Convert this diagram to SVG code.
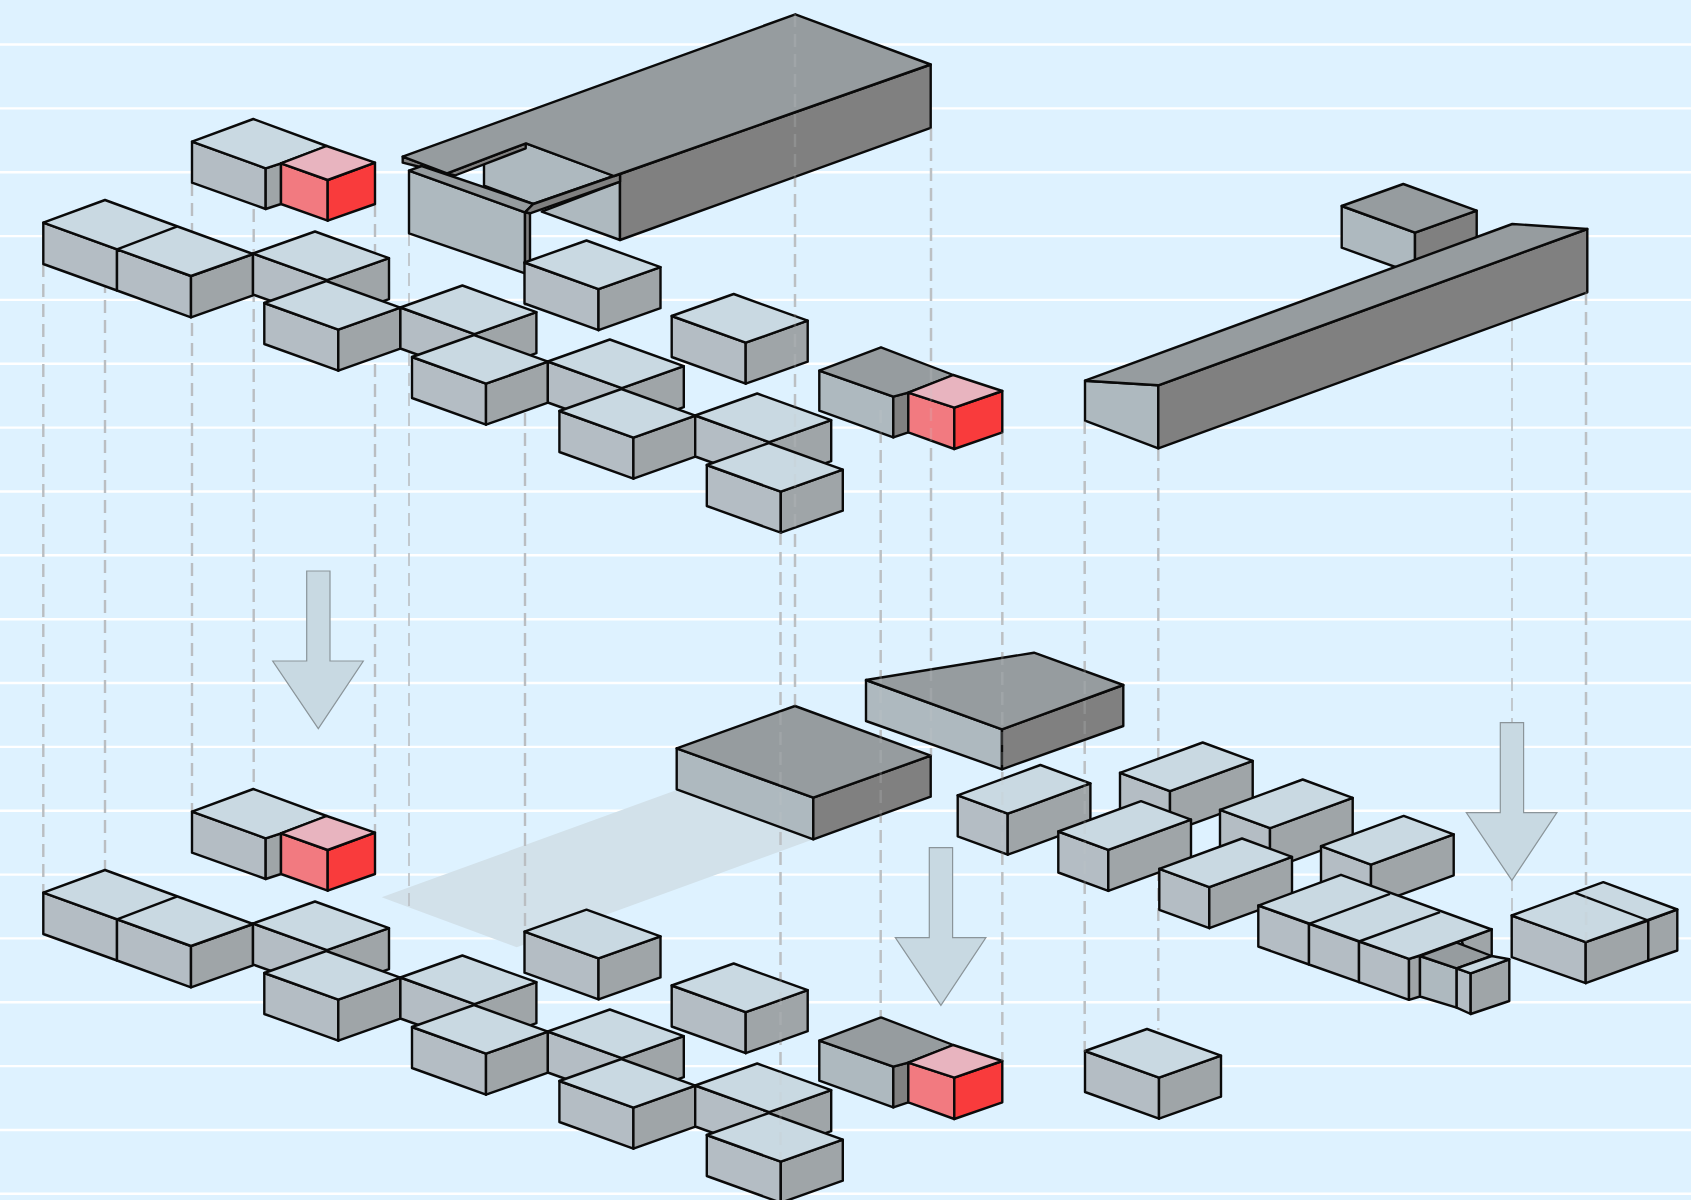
<svg xmlns="http://www.w3.org/2000/svg" width="1691" height="1200" viewBox="0 0 1691 1200">
<style>
.grid{stroke:#fff;stroke-width:2.4;fill:none}
.dash{stroke:#babec2;stroke-width:2.4;stroke-dasharray:13 7;fill:none}
.thin{stroke-width:1.6}
.f{stroke:#0a0a0a;stroke-width:2.4;stroke-linejoin:round}
.t{fill:#c9d9e2}.l{fill:#b4bdc4}.r{fill:#9fa5a8}
.dt{fill:#969c9f}.dl{fill:#aeb9bf}.dr{fill:#808080}
.pt{fill:#e8b4bf}.pl{fill:#f27a80}.pr{fill:#f93b3c}
.arrow{fill:#c8d9e2;stroke:#8b959a;stroke-width:1.2}
.shadow{fill:#d2e1ea}
#tint line{stroke:#ffe4d2;stroke-width:2.4;opacity:.16}
#ghost{opacity:.22}
#ghost line{stroke:#c6c8ca}
</style>
<defs>
<g id="b">
<polygon class="f l" points="0,0 74,26.7 74,67.7 0,41"/>
<polygon class="f r" points="74,26.7 136,4.7 136,45.7 74,67.7"/>
<polygon class="f t" points="0,0 74,26.7 136,4.7 62,-22"/>
</g>
<g id="w">
<polygon class="f l" points="0,0 50,18.4 50,59.4 0,41"/>
<polygon class="f r" points="50,18.4 132.7,-11.9 132.7,29.1 50,59.4"/>
<polygon class="f t" points="0,0 50,18.4 132.7,-11.9 82.7,-30.3"/>
</g>
<g id="dbl">
<polygon class="f l" points="0,0 73.7,26.7 73.7,67.8 0,41.3"/>
<polygon class="f l" points="73.7,26.7 147.7,53.3 147.7,94.6 73.7,67.8"/>
<polygon class="f r" points="147.7,53.3 209.7,31.3 209.7,72.6 147.7,94.6"/>
<polygon class="f t" points="0,0 61.7,-22.7 209.7,31.3 147.7,53.3"/>
<line class="f" x1="73.7" y1="26.7" x2="133.5" y2="4"/>
</g>
<g id="red">
<polygon class="f l" points="0,0 73.7,26.6 73.7,67.3 0,41"/>
<polygon class="f r" points="73.7,26.6 89,21.6 89,62.3 73.7,67.3"/>
<polygon class="f t" points="0,0 61.3,-22.7 134.7,4.3 89,21.6 73.7,26.6"/>
<polygon class="f pl" points="89,21.6 135.7,38.3 135.7,79 89,62.3"/>
<polygon class="f pr" points="135.7,38.3 183,21 183,62.3 135.7,79"/>
<polygon class="f pt" points="89,21.6 134.7,4.3 183,21 135.7,38.3"/>
</g>
<g id="redd">
<polygon class="f dl" points="0,0 74,26 74,66.7 0,40"/>
<polygon class="f dr" points="74,26 89,22 89,61.6 74,66.7"/>
<polygon class="f dt" points="0,0 61.7,-23.4 134,4.3 89,22 74,26"/>
<polygon class="f pl" points="89,22 135,37 135,78.3 89,61.6"/>
<polygon class="f pr" points="135,37 183,20.3 183,61.6 135,78.3"/>
<polygon class="f pt" points="89,22 134,4.3 183,20.3 135,37"/>
</g>
<polygon id="arr" class="arrow" points="306.7,571 330,571 330,661 363.3,661 318.3,728.7 272.7,661 306.7,661"/>
<g id="gridlines">
<line x1="0" x2="1691" y1="44.5" y2="44.5"/>
<line x1="0" x2="1691" y1="108.4" y2="108.4"/>
<line x1="0" x2="1691" y1="172.2" y2="172.2"/>
<line x1="0" x2="1691" y1="236.1" y2="236.1"/>
<line x1="0" x2="1691" y1="299.9" y2="299.9"/>
<line x1="0" x2="1691" y1="363.8" y2="363.8"/>
<line x1="0" x2="1691" y1="427.6" y2="427.6"/>
<line x1="0" x2="1691" y1="491.5" y2="491.5"/>
<line x1="0" x2="1691" y1="555.3" y2="555.3"/>
<line x1="0" x2="1691" y1="619.2" y2="619.2"/>
<line x1="0" x2="1691" y1="683" y2="683"/>
<line x1="0" x2="1691" y1="746.9" y2="746.9"/>
<line x1="0" x2="1691" y1="810.7" y2="810.7"/>
<line x1="0" x2="1691" y1="874.6" y2="874.6"/>
<line x1="0" x2="1691" y1="938.4" y2="938.4"/>
<line x1="0" x2="1691" y1="1002.3" y2="1002.3"/>
<line x1="0" x2="1691" y1="1066.1" y2="1066.1"/>
<line x1="0" x2="1691" y1="1130" y2="1130"/>
<line x1="0" x2="1691" y1="1193.8" y2="1193.8"/>
</g>
</defs>

<rect width="1691" height="1200" fill="#def2ff"/>
<g id="grid" class="grid"><use href="#gridlines"/></g>
<polygon id="shadow" class="shadow" points="381.7,897.3 676.7,790 813.3,839.3 516.7,947.3"/>

<g id="connectors">
<line class="dash" x1="43.3" y1="264" x2="43.3" y2="893"/>
<line class="dash" x1="105" y1="240" x2="105" y2="870"/>
<line class="dash" x1="192" y1="183" x2="192" y2="812"/>
<line class="dash" x1="253.7" y1="209" x2="253.7" y2="789"/>
<line class="dash" x1="375" y1="204" x2="375" y2="832"/>
<line class="dash thin" x1="409" y1="233" x2="409" y2="908"/>
<line class="dash" x1="525" y1="273" x2="525" y2="931"/>
<line class="dash" x1="780.5" y1="532" x2="780.5" y2="1160"/>
<line class="dash" x1="795" y1="14" x2="795" y2="706"/>
<line class="dash" x1="880.7" y1="410" x2="880.7" y2="1017"/>
<line class="dash" x1="931" y1="128" x2="931" y2="756"/>
<line class="dash" x1="1002.3" y1="432" x2="1002.3" y2="1061"/>
<line class="dash" x1="1084.7" y1="421" x2="1084.7" y2="1052"/>
<line class="dash" x1="1158.3" y1="448" x2="1158.3" y2="1030"/>
<line class="dash thin" x1="1512" y1="318" x2="1512" y2="915"/>
<line class="dash" x1="1586" y1="292" x2="1586" y2="942"/>
</g>

<g id="top-slab">
<polygon class="f dl" points="541.7,211.7 620,181.7 620,240"/>
<polygon class="f dl" points="484,163 526,143.3 614,176 533.3,204 484,185.7"/>
<polygon class="f dr" points="620,174 930.7,64.5 930.7,127.8 620,240"/>
<polygon class="f dl" points="409,170.7 525,212.3 525,273.3 409,233.3"/>
<polygon class="f dr" points="525,212.3 530,213.3 530,262 525,264"/>
<polygon class="f dr" points="402.7,156.7 423,164 420,167 402.7,162.7"/>
<polygon class="f dr" points="447,173.3 525.7,143.3 525.7,148.3 455,175.5"/>
<polygon class="f dt" points="409,170.7 421.7,166 533.3,204 525,212.3"/>
<polygon class="f dr" points="525,212.3 533.3,204 614,176 620,174 620,181.7 530,213.3"/>
<polygon class="f dt" points="402.7,156.7 795.3,14.3 930.7,64.5 614,176 526,143.3 447,173.3"/>
</g>

<g id="upper-red"><use href="#red" transform="translate(192,141.7)"/></g>
<g id="upper-a"><use href="#dbl" transform="translate(43.3,222.7)"/></g>
<g id="upper-c"><use href="#b" transform="translate(253,253.5)"/></g>
<g id="upper-d"><use href="#b" transform="translate(264.3,303)"/></g>
<g id="upper-e"><use href="#b" transform="translate(400.4,307.5)"/></g>
<g id="upper-f"><use href="#b" transform="translate(412,357)"/></g>
<g id="upper-g"><use href="#b" transform="translate(547.8,361.5)"/></g>
<g id="upper-h"><use href="#b" transform="translate(559.4,411)"/></g>
<g id="upper-i"><use href="#b" transform="translate(695.2,415.5)"/></g>
<g id="upper-j"><use href="#b" transform="translate(706.8,465)"/></g>
<g id="upper-k"><use href="#b" transform="translate(524.5,262.5)"/></g>
<g id="upper-l"><use href="#b" transform="translate(671.7,316)"/></g>
<g id="upper-dark"><use href="#redd" transform="translate(819.3,370.7)"/></g>

<g id="small-dark">
<polygon class="f dl" points="1341.7,206 1415,232.7 1415,274 1341.7,247.7"/>
<polygon class="f dr" points="1415,232.7 1476.7,210.7 1476.7,252 1415,274"/>
<polygon class="f dt" points="1341.7,206 1403.3,184 1476.7,210.7 1415,232.7"/>
</g>
<g id="long-bar">
<polygon class="f dl" points="1085,380.7 1158.3,385.3 1158.3,448.3 1085,420.7"/>
<polygon class="f dr" points="1158.3,385.3 1587.3,229 1587.3,292.3 1158.3,448.3"/>
<polygon class="f dt" points="1085,380.7 1512.3,224 1587.3,229 1158.3,385.3"/>
</g>

<g id="flat-dark">
<polygon class="f dl" points="676.7,748.3 813.3,797.7 813.3,839.3 676.7,789.3"/>
<polygon class="f dr" points="813.3,797.7 930.7,755.7 930.7,796.7 813.3,839.3"/>
<polygon class="f dt" points="676.7,748.3 795,706 930.7,755.7 813.3,797.7"/>
</g>
<g id="trapezoid">
<polygon class="f dl" points="866,680 1002,729.3 1002,769.3 866,721"/>
<polygon class="f dr" points="1002,729.3 1123.3,685 1123.3,726 1002,769.3"/>
<polygon class="f dt" points="866,680 1034,652.7 1123.3,685 1002,729.3"/>
</g>

<g id="low-q"><use href="#w" transform="translate(957.7,795.3)"/></g>
<g id="low-p"><use href="#w" transform="translate(1120,772.8)"/></g>
<g id="low-q2"><use href="#w" transform="translate(1058.3,831.5)"/></g>
<g id="low-s"><use href="#w" transform="translate(1220,809.8)"/></g>
<g id="low-v"><use href="#w" transform="translate(1159.3,868.8)"/></g>
<g id="low-u"><use href="#w" transform="translate(1321,846.2)"/></g>

<g id="row">
<polygon class="f r" points="1461.7,941 1491.7,929 1491.7,957 1470,965"/>
<polygon class="f l" points="1258.3,905.5 1309,923.8 1309,964.5 1258.3,946.5"/>
<polygon class="f l" points="1309,923.8 1359,941.5 1359,982.2 1309,964.5"/>
<polygon class="f l" points="1359,941.5 1409,958.8 1409,999.8 1359,982.2"/>
<polygon class="f r" points="1409,958.8 1420,955.5 1420,996.5 1409,999.8"/>
<polygon class="f t" points="1258.3,905.5 1341,874.8 1491.7,929.5 1420,955.5 1409,958.8"/>
<line class="f" x1="1309" y1="923.8" x2="1390" y2="893.8"/>
<line class="f" x1="1359" y1="941.5" x2="1440" y2="912.2"/>
<polygon class="f dl" points="1420,956 1456.7,968.3 1456.7,1007.7 1420,996.5"/>
<polygon class="f dt" points="1420,956 1456.7,942.7 1491.7,956 1456.7,968.3"/>
<polygon class="f l" points="1456.7,968.3 1470.7,973.3 1470.7,1014 1456.7,1007.7"/>
<polygon class="f r" points="1470.7,973.3 1509.3,959.3 1509.3,1001 1470.7,1014"/>
<polygon class="f t" points="1456.7,968.3 1491.7,956 1509.3,959.3 1470.7,973.3"/>
</g>
<g id="double-right">
<polygon class="f l" points="1511.7,915.5 1585.7,942.2 1585.7,983.2 1511.7,957.2"/>
<polygon class="f r" points="1585.7,942.2 1648.3,920.5 1648.3,960.5 1585.7,983.2"/>
<polygon class="f r" points="1648.3,920.5 1677.3,909.5 1677.3,950.5 1648.3,960.5"/>
<polygon class="f t" points="1511.7,915.5 1603.3,882.2 1677.3,909.5 1585.7,942.2"/>
<line class="f" x1="1575" y1="892.8" x2="1648.3" y2="920.5"/>
</g>

<g id="lower-red"><use href="#red" transform="translate(192,811.7)"/></g>
<g id="lower-a"><use href="#dbl" transform="translate(43.3,892.7)"/></g>
<g id="lower-c"><use href="#b" transform="translate(253,923.5)"/></g>
<g id="lower-d"><use href="#b" transform="translate(264.3,973)"/></g>
<g id="lower-e"><use href="#b" transform="translate(400.4,977.5)"/></g>
<g id="lower-f"><use href="#b" transform="translate(412,1027)"/></g>
<g id="lower-g"><use href="#b" transform="translate(547.8,1031.5)"/></g>
<g id="lower-h"><use href="#b" transform="translate(559.4,1081)"/></g>
<g id="lower-i"><use href="#b" transform="translate(695.2,1085.5)"/></g>
<g id="lower-j"><use href="#b" transform="translate(706.8,1135)"/></g>
<g id="lower-k"><use href="#b" transform="translate(524.5,931.7)"/></g>
<g id="lower-l"><use href="#b" transform="translate(671.7,985.5)"/></g>
<g id="lower-dark"><use href="#redd" transform="translate(819.3,1040.7)"/></g>
<g id="lower-lone"><use href="#b" transform="translate(1085,1051)"/></g>

<g id="ghost" class="dash">
<line x1="795" y1="14" x2="795" y2="706"/>
<line x1="780.5" y1="532" x2="780.5" y2="1160"/>
<line x1="880.7" y1="410" x2="880.7" y2="1017"/>
<line x1="931" y1="128" x2="931" y2="756"/>
<line x1="1002.3" y1="432" x2="1002.3" y2="1061"/>
<line x1="1084.7" y1="421" x2="1084.7" y2="1052"/>
<line x1="1586" y1="292" x2="1586" y2="942"/>
</g>
<g id="arrows">
<use href="#arr"/>
<use href="#arr" transform="translate(622.6,276.7)"/>
<use href="#arr" transform="translate(1193.6,151.7)"/>
</g>
<g id="tint"><use href="#gridlines"/></g>
</svg>
